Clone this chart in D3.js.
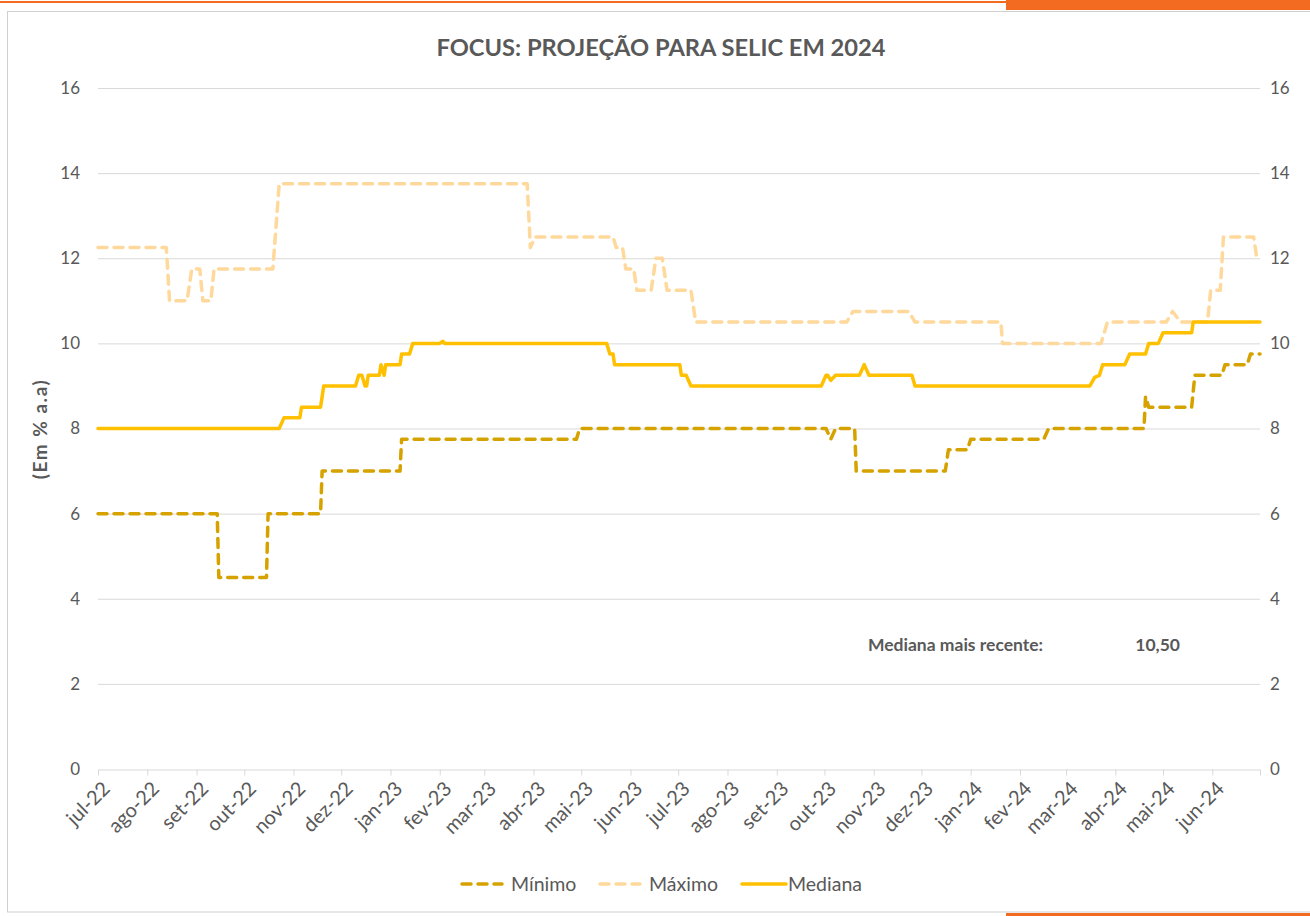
<!DOCTYPE html>
<html>
<head>
<meta charset="utf-8">
<script src="https://cdn.jsdelivr.net/npm/d3@7"></script>
<style>
  html, body { margin: 0; padding: 0; background: #fff; }
  svg { display: block; }
  text { font-family: Lato, "Open Sans", sans-serif; }
</style>
</head>
<body>
<svg id="chart" width="1310" height="916"></svg>
<script>
// ---------- DATA ----------
const title = "FOCUS: PROJEÇÃO PARA SELIC EM 2024";
const yAxisTitle = "(Em % a.a)";
const yTicks = [0, 2, 4, 6, 8, 10, 12, 14, 16];
const monthLabels = ["jan","fev","mar","abr","mai","jun","jul","ago","set","out","nov","dez"];
const axisStart = "2022-07-01";
const axisEnd = "2024-07-01";

const minDates = ["2022-07-01","2022-09-14","2022-09-15","2022-10-15","2022-10-16","2022-11-18","2022-11-19",
  "2023-01-07","2023-01-08","2023-04-28","2023-04-30","2023-10-02","2023-10-05","2023-10-08","2023-10-20",
  "2023-10-21","2023-12-16","2023-12-18","2023-12-30","2024-01-01","2024-02-16","2024-02-19","2024-04-19",
  "2024-04-20","2024-04-22","2024-05-19","2024-05-21","2024-06-07","2024-06-09","2024-06-23","2024-06-25","2024-07-01"];
const minValues = [6.0,6.0,4.5,4.5,6.0,6.0,7.0,
  7.0,7.75,7.75,8.0,8.0,7.75,8.0,8.0,
  7.0,7.0,7.5,7.5,7.75,7.75,8.0,8.0,
  8.75,8.5,8.5,9.25,9.25,9.5,9.5,9.75,9.75];

const maxDates = ["2022-07-01","2022-08-13","2022-08-15","2022-08-26","2022-08-29","2022-09-03","2022-09-05",
  "2022-09-10","2022-09-12","2022-10-19","2022-10-23","2023-03-28","2023-03-30","2023-04-02","2023-05-21",
  "2023-05-23","2023-05-27","2023-05-29","2023-06-03","2023-06-05","2023-06-14","2023-06-17","2023-06-21",
  "2023-06-24","2023-07-09","2023-07-12","2023-10-15","2023-10-19","2023-11-23","2023-11-27","2024-01-20",
  "2024-01-21","2024-03-23","2024-03-27","2024-05-03","2024-05-07","2024-05-12","2024-05-29","2024-05-31",
  "2024-06-06","2024-06-08","2024-06-27","2024-06-29","2024-07-01"];
const maxValues = [12.25,12.25,11.0,11.0,11.75,11.75,11.0,
  11.0,11.75,11.75,13.75,13.75,12.25,12.5,12.5,
  12.25,12.25,11.75,11.75,11.25,11.25,12.0,12.0,
  11.25,11.25,10.5,10.5,10.75,10.75,10.5,10.5,
  10.0,10.0,10.5,10.5,10.75,10.5,10.5,11.25,
  11.25,12.5,12.5,12.0,12.0];

const medDates = ["2022-07-01","2022-10-23","2022-10-26","2022-11-05","2022-11-06","2022-11-18","2022-11-20",
  "2022-12-10","2022-12-12","2022-12-14","2022-12-16","2022-12-17","2022-12-18","2022-12-25","2022-12-26",
  "2022-12-28","2022-12-29","2023-01-07","2023-01-08","2023-01-13","2023-01-15","2023-02-01","2023-02-03",
  "2023-02-04","2023-05-17","2023-05-19","2023-05-21","2023-05-22","2023-07-02","2023-07-03","2023-07-06",
  "2023-07-09","2023-09-29","2023-10-02","2023-10-03","2023-10-05","2023-10-08","2023-10-23","2023-10-26",
  "2023-10-29","2023-11-25","2023-11-27","2024-03-16","2024-03-19","2024-03-22","2024-03-24","2024-04-07",
  "2024-04-10","2024-04-20","2024-04-22","2024-04-28","2024-05-01","2024-05-19","2024-05-20","2024-07-01"];
const medValues = [8.0,8.0,8.25,8.25,8.5,8.5,9.0,
  9.0,9.25,9.25,9.0,9.0,9.25,9.25,9.5,
  9.25,9.5,9.5,9.75,9.75,10.0,10.0,10.05,
  10.0,10.0,9.75,9.75,9.5,9.5,9.25,9.25,
  9.0,9.0,9.25,9.25,9.13,9.25,9.25,9.5,
  9.25,9.25,9.0,9.0,9.2,9.25,9.5,9.5,
  9.75,9.75,10.0,10.0,10.25,10.25,10.5,10.5];

const seriesNames = ["Mínimo", "Máximo", "Mediana"];
const annotationLabel = "Mediana mais recente:";
const annotationValue = "10,50";

// ---------- STYLE ----------
const colMin = "#D5A200";
const colMax = "#FFD89B";
const colMed = "#FFC000";
const textCol = "#595959";
const gridCol = "#D9D9D9";

const parse = d3.timeParse("%Y-%m-%d");
const zip = (ds, vs) => ds.map((d, i) => ({ date: parse(d), value: vs[i] }));
const dataMin = zip(minDates, minValues);
const dataMax = zip(maxDates, maxValues);
const dataMed = zip(medDates, medValues);

const svg = d3.select("#chart");

// decorative frame
svg.append("line").attr("x1", 0).attr("x2", 1006).attr("y1", 2).attr("y2", 2)
  .attr("stroke", "#F26B21").attr("stroke-width", 2);
svg.append("rect").attr("x", 1006).attr("y", 0).attr("width", 304).attr("height", 10).attr("fill", "#F26B21");
svg.append("rect").attr("x", 1006).attr("y", 913).attr("width", 304).attr("height", 3).attr("fill", "#F26B21");
svg.append("rect").attr("x", 7.5).attr("y", 11.5).attr("width", 1320).attr("height", 900.5)
  .attr("fill", "none").attr("stroke", "#D0D0D0").attr("stroke-width", 1);

// scales
const x = d3.scaleTime().domain([parse(axisStart), parse(axisEnd)]).range([98, 1260]);
const y = d3.scaleLinear().domain([0, 16]).range([769, 88]);

// gridlines
svg.append("g").selectAll("line").data(yTicks.filter(v => v > 0)).join("line")
  .attr("x1", 98).attr("x2", 1260)
  .attr("y1", d => y(d) + 0.5).attr("y2", d => y(d) + 0.5)
  .attr("stroke", gridCol).attr("stroke-width", 1);

// left & right y axes
const yLeft = d3.axisLeft(y).tickValues(yTicks).tickSize(0).tickPadding(18).tickFormat(d3.format("d"));
const gL = svg.append("g").attr("transform", "translate(98,0)").call(yLeft);
gL.select(".domain").remove();
gL.selectAll("text").attr("font-size", 17).attr("fill", textCol).style("font-family", "Lato, sans-serif");

const yRight = d3.axisRight(y).tickValues(yTicks).tickSize(0).tickPadding(10).tickFormat(d3.format("d"));
const gR = svg.append("g").attr("transform", "translate(1260,0)").call(yRight);
gR.select(".domain").remove();
gR.selectAll("text").attr("font-size", 17).attr("fill", textCol).style("font-family", "Lato, sans-serif");

// x axis
const months = d3.timeMonth.range(parse(axisStart), d3.timeDay.offset(parse(axisEnd), 1));
const fmt = d => monthLabels[d.getMonth()] + "-" + String(d.getFullYear()).slice(2);
const xAxis = d3.axisBottom(x).tickValues(months).tickSize(6).tickSizeOuter(0).tickFormat(fmt);
const gX = svg.append("g").attr("transform", "translate(0,769.5)").call(xAxis);
gX.select(".domain").attr("stroke", gridCol);
gX.selectAll(".tick line").attr("stroke", gridCol);
gX.selectAll(".tick text")
  .style("font-size", "20px").attr("fill", textCol).style("font-family", "Lato, sans-serif")
  .attr("text-anchor", "end")
  .attr("transform", "translate(2,10) rotate(-45)")
  .attr("x", 0).attr("y", 0).attr("dy", "0.75em")
  .style("display", (d, i) => i === months.length - 1 ? "none" : null);

// lines
const line = d3.line().x(d => x(d.date)).y(d => y(d.value));
svg.append("path").datum(dataMax).attr("d", line)
  .attr("fill", "none").attr("stroke", colMax).attr("stroke-width", 3.5)
  .attr("stroke-dasharray", "9 7").attr("stroke-linecap", "round").attr("stroke-linejoin", "round");
svg.append("path").datum(dataMin).attr("d", line)
  .attr("fill", "none").attr("stroke", colMin).attr("stroke-width", 3.5)
  .attr("stroke-dasharray", "9 7").attr("stroke-linecap", "round").attr("stroke-linejoin", "round");
svg.append("path").datum(dataMed).attr("d", line)
  .attr("fill", "none").attr("stroke", colMed).attr("stroke-width", 3.5)
  .attr("stroke-linecap", "round").attr("stroke-linejoin", "round");

// title
svg.append("text").attr("x", 661).attr("y", 56).attr("text-anchor", "middle")
  .attr("font-size", 23.7).attr("font-weight", "bold").attr("fill", textCol).text(title);

// y title
svg.append("text").attr("transform", "translate(47,429) rotate(-90)").attr("text-anchor", "middle")
  .attr("font-size", 19).attr("font-weight", "bold").attr("letter-spacing", 1.5).attr("fill", textCol).text(yAxisTitle);

// annotation
svg.append("text").attr("x", 868).attr("y", 651).attr("font-size", 17.5).attr("font-weight", "bold")
  .attr("fill", textCol).text(annotationLabel);
svg.append("text").attr("x", 1180).attr("y", 651).attr("text-anchor", "end").attr("font-size", 17.5)
  .attr("font-weight", "bold").attr("fill", textCol).text(annotationValue);

// legend
const legendItems = [
  { name: seriesNames[0], color: colMin, dash: "9 7", x0: 462, x1: 502, tx: 511 },
  { name: seriesNames[1], color: colMax, dash: "9 7", x0: 600, x1: 640, tx: 649 },
  { name: seriesNames[2], color: colMed, dash: null, x0: 742, x1: 786, tx: 788 }
];
const lg = svg.append("g");
legendItems.forEach(it => {
  lg.append("line").attr("x1", it.x0).attr("x2", it.x1).attr("y1", 884).attr("y2", 884)
    .attr("stroke", it.color).attr("stroke-width", 3.5).attr("stroke-linecap", "round")
    .attr("stroke-dasharray", it.dash);
  lg.append("text").attr("x", it.tx).attr("y", 891).attr("font-size", 19.5).attr("fill", textCol).text(it.name);
});
</script>
</body>
</html>
